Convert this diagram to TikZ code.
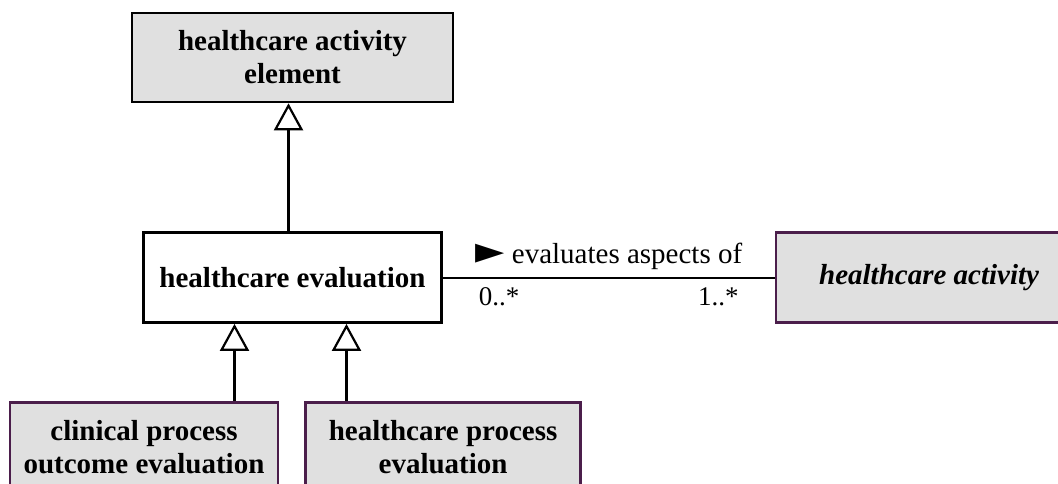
\documentclass[tikz,border=0pt]{standalone}
\usepackage{fontspec}
\setmainfont{Liberation Serif}
\newfontfamily\shapefont{DejaVu Sans}
\usetikzlibrary{arrows.meta,positioning}
\definecolor{classfill}{HTML}{E0E0E0}
\definecolor{plum}{HTML}{4B1E4B}

\begin{document}
\begin{tikzpicture}[
    x=1pt, y=-1pt,
    font=\fontsize{29}{33}\selectfont,
    % UML class boxes
    cls/.style={rectangle, draw=black, line width=2.6pt, fill=classfill, align=center, inner sep=0pt, font=\bfseries\fontsize{29}{33}\selectfont},
    subcls/.style={cls, draw=plum},
    % generalisation and association lines
    gen/.style={line width=2.2pt, -{Triangle[open, length=27pt, width=29pt, line width=2.2pt]}},
    assoc/.style={line width=2.2pt},
    mult/.style={font=\fontsize{27}{30}\selectfont}
]
\useasboundingbox (0,0) rectangle (1058,483);

% ==========================================
% Classes
% ==========================================
\node[cls, minimum width=321pt, minimum height=89pt] (elem) at (292.5,57.5) {healthcare activity\\element};
\node[cls, fill=white, minimum width=298pt, minimum height=90pt, below=128pt of elem] (eval) {healthcare evaluation};
\node[subcls, font=\bfseries\itshape\fontsize{29}{33}\selectfont, minimum width=306pt, minimum height=90pt, right=332pt of eval] (act) {healthcare activity};

\node[subcls, minimum width=268pt, minimum height=89pt, anchor=north] (clin) at (144,401) {clinical process\\outcome evaluation};
\node[subcls, minimum width=275pt, minimum height=89pt, right=25pt of clin] (proc) {healthcare process\\evaluation};

% ==========================================
% Inheritance
% ==========================================
\draw[gen] ([xshift=-4pt]eval.north) -- ([xshift=-4pt]eval.north |- elem.south);
\draw[gen] ([xshift=-58pt]eval.south |- clin.north) -- ([xshift=-58pt]eval.south);
\draw[gen] ([xshift=54pt]eval.south |- proc.north) -- ([xshift=54pt]eval.south);

% ==========================================
% Association
% ==========================================
\draw[assoc] (eval) -- node[above=3pt] {{\shapefont\fontsize{38}{38}\selectfont ►}\ evaluates aspects of}
    node[mult, pos=0.17, below=6pt] {0..*}
    node[mult, pos=0.83, below=6pt] {1..*} (act);

\end{tikzpicture}
\end{document}
